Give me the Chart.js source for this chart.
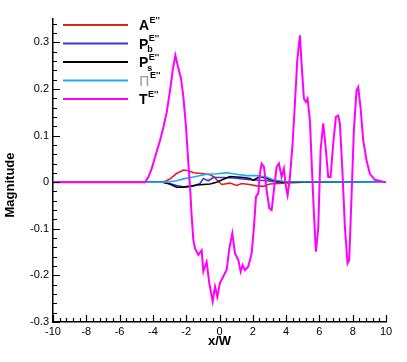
<!DOCTYPE html>
<html>
<head>
<meta charset="utf-8">
<script src="https://cdn.jsdelivr.net/npm/chart.js"></script>
<style>
  body { margin: 0; background: #fff; }
  #wrap { width: 407px; height: 362px; }
</style>
</head>
<body>
<div id="wrap"><canvas id="myChart" width="407" height="362"></canvas></div>
<script>
// T^E'' (magenta)
const tX = [-10, -8, -6, -4.6, -4.47, -4.27, -4.07, -3.87, -3.57, -3.37, -3.17, -2.97, -2.81, -2.65, -2.51, -2.31, -2.17, -2.01, -1.87, -1.77,
  -1.67, -1.57, -1.47, -1.27, -1.07, -0.97, -0.77, -0.61, -0.41, -0.27, -0.13, 0.02, 0.22, 0.43, 0.59, 0.77, 0.93, 1.13, 1.27, 1.39,
  1.53, 1.73, 1.93, 2.07, 2.19, 2.33, 2.43, 2.53, 2.67, 2.83, 2.99, 3.13, 3.29, 3.43, 3.57, 3.73, 3.87, 3.99, 4.09, 4.23,
  4.39, 4.53, 4.67, 4.83, 4.93, 5.07, 5.19, 5.29, 5.43, 5.55, 5.67, 5.79, 5.93, 6.07, 6.23, 6.39, 6.53, 6.67, 6.83, 6.99,
  7.13, 7.23, 7.37, 7.53, 7.69, 7.79, 7.93, 8.07, 8.23, 8.33, 8.47, 8.63, 8.83, 9.03, 9.33, 9.83, 10];
const tY = [0, 0, 0, 0, 0, 0.011, 0.029, 0.054, 0.09, 0.118, 0.15, 0.197, 0.24, 0.272, 0.25, 0.222, 0.183, 0.118, 0.04, -0.01,
  -0.074, -0.124, -0.142, -0.156, -0.146, -0.192, -0.171, -0.217, -0.256, -0.224, -0.246, -0.217, -0.203, -0.188, -0.142, -0.11, -0.153, -0.167, -0.192, -0.178,
  -0.189, -0.181, -0.153, -0.096, -0.031, -0.024, 0.019, 0.04, 0.033, -0.017, -0.056, -0.06, -0.01, 0.033, 0.04, 0.011, 0.029, -0.01, -0.028, 0.011,
  0.083, 0.169, 0.261, 0.315, 0.254, 0.179, 0.172, 0.179, 0.133, 0.03, -0.067, -0.149, -0.1, 0.068, 0.126, 0.069, 0.011, 0.011, 0.083, 0.14,
  0.143, 0.126, 0.033, -0.096, -0.174, -0.167, -0.031, 0.111, 0.197, 0.204, 0.161, 0.09, 0.047, 0.018, 0.005, 0.001, 0];

// A^E'' (red)
const aX = [-10, -3.4, -3.0, -2.6, -2.17, -1.8, -1.57, -0.97, -0.57, -0.3, -0.17, 0.13, 0.63, 1.03, 1.33, 1.8, 2.23, 2.63, 3.03, 3.83, 5, 10];
const aY = [0, 0, 0.006, 0.018, 0.026, 0.024, 0.02, 0.018, 0.016, 0.011, 0.005, -0.005, -0.002, -0.007, -0.003, -0.005, -0.008, -0.009, -0.004, -0.002, 0, 0];

// P_b^E'' (blue)
const bX = [-10, -3.4, -3.0, -2.57, -2.17, -1.57, -1.17, -0.97, -0.67, -0.37, 0.23, 0.83, 1.83, 2.83, 3.5, 10];
const bY = [0, 0, -0.003, -0.007, -0.01, -0.008, -0.003, 0.008, 0.003, 0.01, 0.01, 0.009, 0.005, 0.003, 0, 0];

// P_s^E'' (black)
const sX = [-10, -3.4, -3.0, -2.57, -2.17, -1.77, -1.37, -0.57, -0.17, 0.23, 0.63, 1.03, 1.43, 1.83, 2.03, 2.43, 2.83, 3.43, 4, 10];
const sY = [0, 0, -0.004, -0.011, -0.011, -0.009, -0.006, -0.004, 0, 0.006, 0.012, 0.011, 0.01, 0.008, 0.004, 0.012, 0.008, 0.002, 0, 0];

// Pi^E'' (cyan)
const pX = [-10, -3.4, -3.0, -2.57, -2.17, -1.57, -0.77, -0.17, 0.43, 1.03, 1.63, 2.23, 2.83, 3.23, 4.03, 10];
const pY = [0, 0, 0.001, 0.003, 0.007, 0.011, 0.017, 0.018, 0.02, 0.017, 0.014, 0.014, 0.011, 0.005, 0.001, 0];

const xTicks = [-10, -8, -6, -4, -2, 0, 2, 4, 6, 8, 10];
const yTicks = [-0.3, -0.2, -0.1, 0, 0.1, 0.2, 0.3];

const pts = (xs, ys) => xs.map((x, i) => ({ x: x, y: ys[i] }));

const legendItems = [
  { main: 'A', sub: '', color: '#e0201c' },
  { main: 'P', sub: 'b', color: '#3a3ae0' },
  { main: 'P', sub: 's', color: '#000000' },
  { main: 'Π', sub: '', color: '#1eaaf0', gray: true },
  { main: 'T', sub: '', color: '#ff00ff' }
];

// inward ticks, legend and y title
const decor = {
  id: 'decor',
  afterDraw(chart) {
    const c = chart.ctx;
    const xs = chart.scales.x, ys = chart.scales.y;
    const area = chart.chartArea;
    c.save();
    c.strokeStyle = '#000';
    c.lineWidth = 1.2;
    c.beginPath();
    for (let i = 0; i <= 50; i++) {
      const v = -10 + i * 0.4;
      const px = Math.round(xs.getPixelForValue(v)) + 0.5;
      const len = (i % 5 === 0) ? 7 : 4;
      c.moveTo(px, area.bottom);
      c.lineTo(px, area.bottom - len);
    }
    for (let i = 0; i <= 32; i++) {
      const v = -0.3 + i * 0.02;
      const py = Math.round(ys.getPixelForValue(v)) + 0.5;
      const len = (i % 5 === 0) ? 7 : 4;
      c.moveTo(area.left, py);
      c.lineTo(area.left + len, py);
    }
    c.stroke();

    // legend
    const rows = [25, 43.5, 62, 80.5, 99];
    legendItems.forEach((it, i) => {
      const y = rows[i];
      c.strokeStyle = it.color;
      c.lineWidth = 2;
      c.beginPath();
      c.moveTo(63, y);
      c.lineTo(128, y);
      c.stroke();
      c.textAlign = 'left';
      c.textBaseline = 'alphabetic';
      if (it.gray) {
        c.fillStyle = '#9a9a9a';
        c.font = '14px "DejaVu Sans"';
      } else {
        c.fillStyle = '#000';
        c.font = 'bold 14px "Liberation Sans", Arial, sans-serif';
      }
      c.fillText(it.main, 139, y + 5.3);
      const w = c.measureText(it.main).width;
      c.fillStyle = '#000';
      c.font = 'bold 9px "Liberation Sans", Arial, sans-serif';
      c.fillText("E''", 139 + w + 0.5, y - 2.5);
      if (it.sub) c.fillText(it.sub, 139 + w - 1, y + 8.5);
    });

    // y axis title
    c.translate(10, 185);
    c.rotate(-Math.PI / 2);
    c.fillStyle = '#000';
    c.font = 'bold 13px "Liberation Sans", Arial, sans-serif';
    c.textAlign = 'center';
    c.textBaseline = 'middle';
    c.fillText('Magnitude', 0, 0);
    c.restore();
  }
};

const ctx = document.getElementById('myChart');
new Chart(ctx, {
  type: 'line',
  data: {
    datasets: [
      { label: 'A', data: pts(aX, aY), borderColor: '#e0201c', borderWidth: 1.6, order: 5 },
      { label: 'Pb', data: pts(bX, bY), borderColor: '#3a3ae0', borderWidth: 1.6, order: 4 },
      { label: 'Ps', data: pts(sX, sY), borderColor: '#000000', borderWidth: 1.6, order: 3 },
      { label: 'Pi', data: pts(pX, pY), borderColor: '#1eaaf0', borderWidth: 1.6, order: 2 },
      { label: 'T', data: pts(tX, tY), borderColor: '#ff00ff', borderWidth: 2, order: 1 }
    ]
  },
  options: {
    responsive: false,
    animation: false,
    layout: { padding: { top: 19, right: 21, left: 0, bottom: 0 } },
    elements: { point: { radius: 0 }, line: { tension: 0, fill: false } },
    plugins: { legend: { display: false }, tooltip: { enabled: false } },
    scales: {
      x: {
        type: 'linear',
        min: -10,
        max: 10,
        afterFit: (s) => { s.height = 40; },
        afterBuildTicks: (s) => { s.ticks = xTicks.map(v => ({ value: v })); },
        grid: { display: false, drawTicks: false },
        border: { display: true, color: '#000', width: 1.5 },
        ticks: {
          padding: 3,
          color: '#000',
          font: { family: '"Liberation Sans", Arial, sans-serif', size: 11 },
          maxRotation: 0,
          callback: (v) => String(v)
        },
        title: {
          display: true,
          text: 'x/W',
          color: '#000',
          font: { family: '"Liberation Sans", Arial, sans-serif', size: 13, weight: 'bold' },
          padding: { top: 0, bottom: 13 }
        }
      },
      y: {
        type: 'linear',
        min: -0.3,
        max: 0.35,
        afterFit: (s) => { s.width = 53; },
        afterBuildTicks: (s) => { s.ticks = yTicks.map(v => ({ value: v })); },
        grid: { display: false, drawTicks: false },
        border: { display: true, color: '#000', width: 1.5 },
        ticks: {
          padding: 4,
          color: '#000',
          font: { family: '"Liberation Sans", Arial, sans-serif', size: 11 },
          callback: (v) => String(Math.round(v * 10) / 10)
        }
      }
    }
  },
  plugins: [decor]
});
</script>
</body>
</html>
